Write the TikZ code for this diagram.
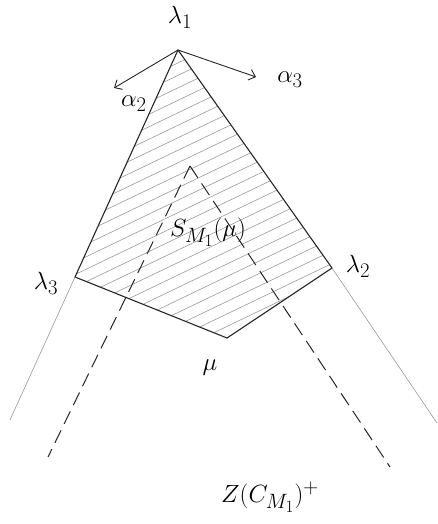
\documentclass[tikz,border=0pt]{standalone}
\usetikzlibrary{arrows.meta}
\begin{document}
\begin{tikzpicture}[x=1pt,y=-1pt,
  lbl/.style={inner sep=1pt,font=\Huge},
  edge/.style={draw=black!85,line width=1.1pt,line cap=round},
  faint/.style={draw=black!40,line width=0.6pt},
  hatch/.style={draw=black!40,line width=0.6pt},
  dashline/.style={draw=black!85,line width=1pt,dash pattern=on 14pt off 7pt},
  arr/.style={draw=black!85,line width=0.9pt,-{Straight Barb[length=6pt,width=11pt]}}]
\useasboundingbox (0,0) rectangle (438,524);
% points
\coordinate (A) at (178,50);
\coordinate (L3) at (75,277);
\coordinate (M) at (227,338);
\coordinate (L2) at (332,268);
\coordinate (E3) at (10,420);
\coordinate (E2) at (437,423);
\coordinate (T2) at (114,88);
\coordinate (T3) at (256,77);
\coordinate (P) at (190,166);
\coordinate (D3) at (48,457);
\coordinate (D2) at (390,467);
% hatching
\begin{scope}
\clip (A) -- (L3) -- (M) -- (L2) -- cycle;
\foreach \i in {-800,-774,...,400}
  \draw[hatch] (\i,420) -- ++(900,-432);
\end{scope}
% boundary
\draw[edge] (A) -- (L3);
\draw[edge] (A) -- (L2);
\draw[edge] (L3) -- (M) -- (L2);
\draw[faint] (L3) -- (E3);
\draw[faint] (L2) -- (E2);
% dashed cone
\draw[dashline] (P) -- (D3);
\draw[dashline] (P) -- (D2);
% arrows
\draw[arr] (A) -- (T2);
\draw[arr] (A) -- (T3);
% labels
\node[lbl] (l1) at (180,17) {$\lambda_1$};
\node[lbl] (a2) at (134,104) {$\alpha_2$};
\node[lbl] (a3) at (290,80) {$\alpha_3$};
\node[lbl] (l2) at (358,266) {$\lambda_2$};
\node[lbl] (l3) at (46,283) {$\lambda_3$};
\node[lbl] (s) at (208,232) {$S_{M_1}(\mu)$};
\node[lbl] (mu) at (210,368) {$\mu$};
\node[lbl] (z) at (270,497) {$Z(C_{M_1})^+$};
\end{tikzpicture}
\end{document}
